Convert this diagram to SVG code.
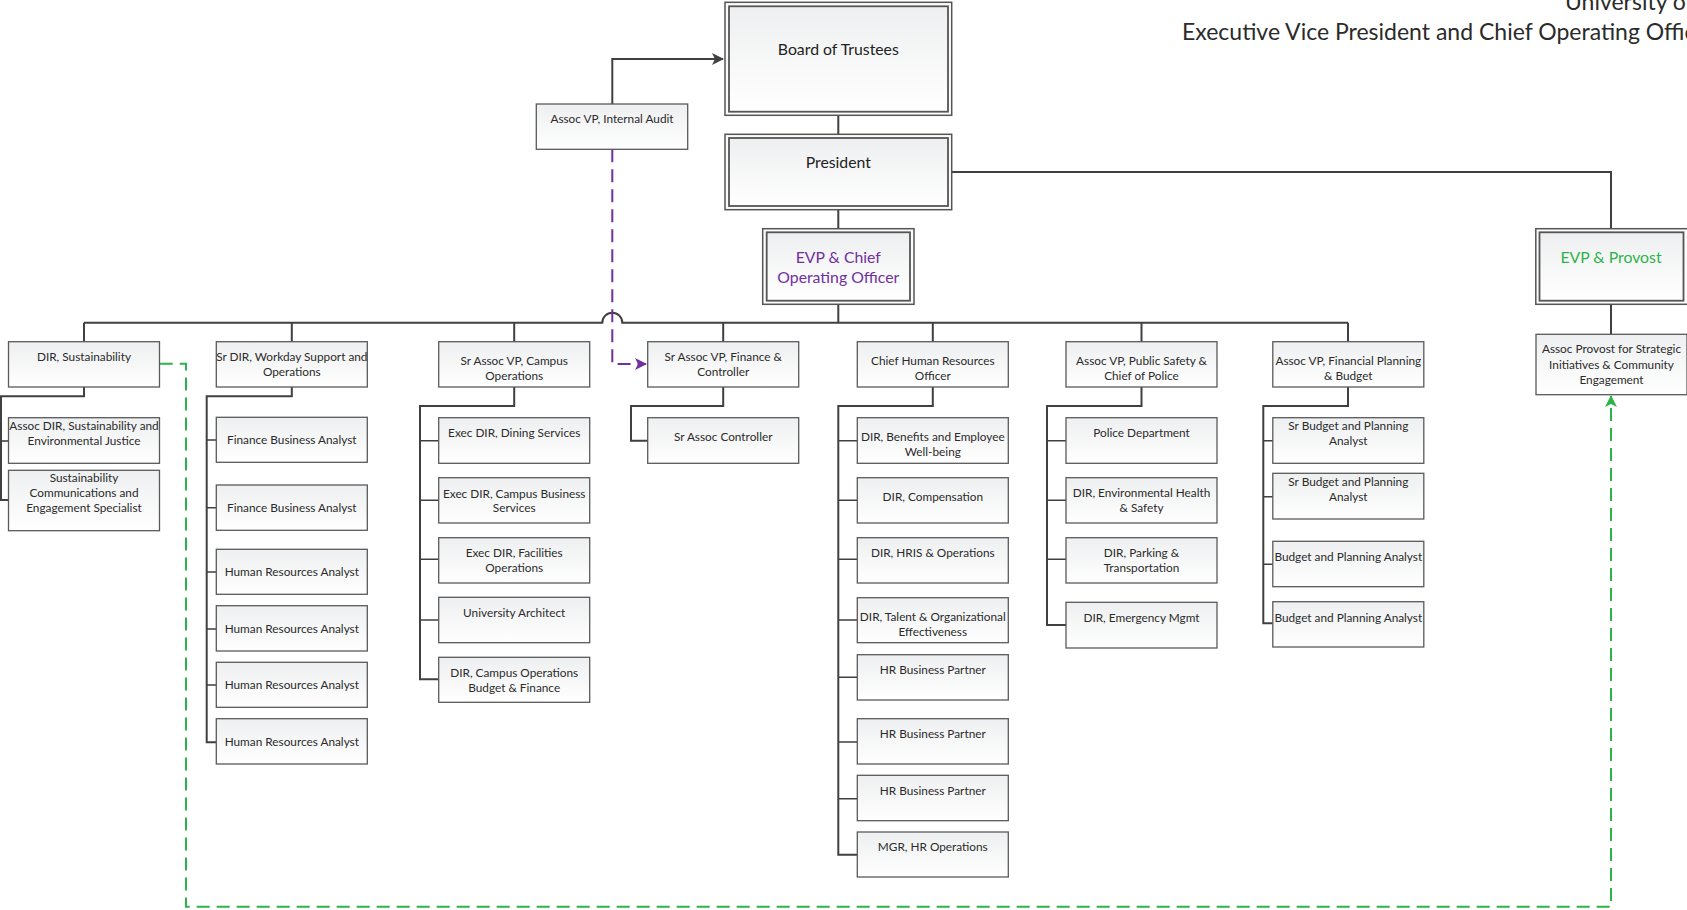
<svg xmlns="http://www.w3.org/2000/svg" width="1687" height="910" viewBox="0 0 1687 910">
<style>
.bx{fill:url(#g);stroke:#5a5a5a;stroke-width:1.3}
.bo{fill:#fbfbfb;stroke:#555;stroke-width:1.5}
.bi{fill:url(#g);stroke:#555;stroke-width:1.8}
.t{font-family:Lato,"Liberation Sans",sans-serif;font-size:11.8px;fill:#2b2b2b;text-anchor:middle}
.tb{font-family:Lato,"Liberation Sans",sans-serif;font-size:15.8px;fill:#222;text-anchor:middle}
.ttl{font-family:Lato,"Liberation Sans",sans-serif;font-size:23px;fill:#2b2b2b}
.c{fill:none;stroke:#404040;stroke-width:2}
.cb{fill:none;stroke:#404040;stroke-width:1.6}
.dp{fill:none;stroke:#7030a0;stroke-width:2;stroke-dasharray:13 7}
.dg{fill:none;stroke:#2db34a;stroke-width:2;stroke-dasharray:13 7}
</style>
<defs>
<linearGradient id="g" x1="0" y1="0" x2="0" y2="1">
<stop offset="0" stop-color="#eeeff0"/><stop offset="1" stop-color="#ffffff"/>
</linearGradient>
<marker id="ak" viewBox="0 0 12 12" refX="11" refY="6" markerWidth="12" markerHeight="12" markerUnits="userSpaceOnUse" orient="auto"><path d="M0,0 L12,6 L0,12 L3,6 Z" fill="#404040"/></marker>
<marker id="ap" viewBox="0 0 12 12" refX="11" refY="6" markerWidth="12" markerHeight="12" markerUnits="userSpaceOnUse" orient="auto"><path d="M0,0 L12,6 L0,12 L3,6 Z" fill="#7030a0"/></marker>
<marker id="ag" viewBox="0 0 12 12" refX="11" refY="6" markerWidth="12" markerHeight="12" markerUnits="userSpaceOnUse" orient="auto"><path d="M0,0 L12,6 L0,12 L3,6 Z" fill="#2db34a"/></marker>
</defs>
<rect width="1687" height="910" fill="#ffffff"/>
<text class="ttl" x="1565" y="10">University of</text>
<text class="ttl" x="1182" y="40">Executive Vice President and Chief Operating Officer</text>

<g id="connectors">
<path class="c" d="M838.3 115.3V134.3M838.3 209.7V228.7M838.3 304.3V322.7"/>
<path class="c" d="M84 322.7H602.3A10 10 0 0 1 622.3 322.7H1348"/>
<path class="c" d="M84 322.7V341.7M291.8 322.7V341.7M514.2 322.7V341.7M723.2 322.7V341.7M932.8 322.7V341.7M1141.5 322.7V341.7M1348 322.7V341.7"/>
<path class="c" d="M951.7 172H1611V228.7M1611 304.3V334.3"/>
<path class="c" d="M612.3 104V59H723" marker-end="url(#ak)"/>
<path class="c" d="M84 387V396.3H1V500H8.5"/><path class="cb" d="M1 441H8.5"/>
<path class="c" d="M291.8 387V396.3H206.7V742.3H216.3"/><path class="cb" d="M206.7 440H216.3M206.7 507.7H216.3M206.7 572H216.3M206.7 629H216.3M206.7 685H216.3"/>
<path class="c" d="M514.2 387V406H420V679.3H438.7"/><path class="cb" d="M420 440.7H438.7M420 500.3H438.7M420 559.3H438.7M420 620H438.7"/>
<path class="c" d="M723.2 387V406H631V440.7H647.7"/>
<path class="c" d="M932.8 387V406H838.3V854.7H857.3"/><path class="cb" d="M838.3 440.7H857.3M838.3 500.3H857.3M838.3 559.3H857.3M838.3 620H857.3M838.3 677.3H857.3M838.3 742H857.3M838.3 798.7H857.3"/>
<path class="c" d="M1141.5 387V406H1047V625H1066"/><path class="cb" d="M1047 440.7H1066M1047 500.3H1066M1047 559.3H1066"/>
<path class="c" d="M1348 387V406H1263.3V623.3H1272.8"/><path class="cb" d="M1263.3 440.7H1272.8M1263.3 496.7H1272.8M1263.3 564.3H1272.8"/>
<path class="dp" d="M612.3 149.3V364H646" marker-end="url(#ap)"/>
<path class="dg" d="M159.7 363.7H186V906.7H1611V396" marker-end="url(#ag)"/>
</g>

<g id="board"><rect class="bo" x="725" y="2.3" width="226.7" height="113"/><rect class="bi" x="729" y="6.3" width="219" height="105.4"/><text class="tb" x="838.3" y="54.6">Board of Trustees</text></g>
<g id="president"><rect class="bo" x="725" y="134.3" width="226.7" height="75.4"/><rect class="bi" x="729" y="138" width="219" height="68"/><text class="tb" x="838.3" y="167.6">President</text></g>
<g id="evp-coo"><rect class="bo" x="762.7" y="228.7" width="151.3" height="75.6"/><rect class="bi" x="766.7" y="232.3" width="143.3" height="68.4"/><text class="tb" x="838.3" y="263.3" style="fill:#7030a0">EVP &amp; Chief</text><text class="tb" x="838.3" y="283.3" style="fill:#7030a0">Operating Officer</text></g>
<g id="evp-provost"><rect class="bo" x="1535.8" y="228.7" width="152" height="75.6"/><rect class="bi" x="1539.5" y="232.3" width="144" height="68.4"/><text class="tb" x="1611" y="263.3" style="fill:#2db34a">EVP &amp; Provost</text></g>
<g id="audit"><rect class="bx" x="536.3" y="104" width="151.4" height="45.3"/><text class="t" x="612" y="123.2">Assoc VP, Internal Audit</text></g>
<g id="assoc-provost"><rect class="bx" x="1536" y="334.3" width="151" height="60.4"/><text class="t" x="1611.5" y="353.2">Assoc Provost for Strategic</text><text class="t" x="1611.5" y="369.2">Initiatives &amp; Community</text><text class="t" x="1611.5" y="384.2">Engagement</text></g>

<g id="dir-sustainability"><rect class="bx" x="8.5" y="341.7" width="151" height="45.3"/><text class="t" x="84" y="361.2">DIR, Sustainability</text></g>
<g id="assoc-dir-sust"><rect class="bx" x="8.5" y="417.7" width="151" height="45.6"/><text class="t" x="84" y="430.2">Assoc DIR, Sustainability and</text><text class="t" x="84" y="445.2">Environmental Justice</text></g>
<g id="sust-comm"><rect class="bx" x="8.5" y="470.3" width="151" height="60.4"/><text class="t" x="84" y="482.2">Sustainability</text><text class="t" x="84" y="497.2">Communications and</text><text class="t" x="84" y="512.2">Engagement Specialist</text></g>

<g id="workday"><rect class="bx" x="216.3" y="341.7" width="151" height="45.3"/><text class="t" x="291.8" y="361.2">Sr DIR, Workday Support and</text><text class="t" x="291.8" y="376.2">Operations</text></g>
<g id="fba1"><rect class="bx" x="216.3" y="417.3" width="151" height="45"/><text class="t" x="291.8" y="444.2">Finance Business Analyst</text></g>
<g id="fba2"><rect class="bx" x="216.3" y="485" width="151" height="45.3"/><text class="t" x="291.8" y="512.2">Finance Business Analyst</text></g>
<g id="hra1"><rect class="bx" x="216.3" y="549.3" width="151" height="45"/><text class="t" x="291.8" y="576.2">Human Resources Analyst</text></g>
<g id="hra2"><rect class="bx" x="216.3" y="605.7" width="151" height="45.3"/><text class="t" x="291.8" y="633.2">Human Resources Analyst</text></g>
<g id="hra3"><rect class="bx" x="216.3" y="662.3" width="151" height="45"/><text class="t" x="291.8" y="689.2">Human Resources Analyst</text></g>
<g id="hra4"><rect class="bx" x="216.3" y="718.7" width="151" height="45.3"/><text class="t" x="291.8" y="746.2">Human Resources Analyst</text></g>

<g id="campus-ops"><rect class="bx" x="438.7" y="341.7" width="151" height="45.3"/><text class="t" x="514.2" y="365.2">Sr Assoc VP, Campus</text><text class="t" x="514.2" y="380.2">Operations</text></g>
<g id="dining"><rect class="bx" x="438.7" y="417.7" width="151" height="45.6"/><text class="t" x="514.2" y="437.2">Exec DIR, Dining Services</text></g>
<g id="cbs"><rect class="bx" x="438.7" y="477.7" width="151" height="45.3"/><text class="t" x="514.2" y="497.5">Exec DIR, Campus Business</text><text class="t" x="514.2" y="512.2">Services</text></g>
<g id="facilities"><rect class="bx" x="438.7" y="537.7" width="151" height="45.3"/><text class="t" x="514.2" y="557.2">Exec DIR, Facilities</text><text class="t" x="514.2" y="572.2">Operations</text></g>
<g id="architect"><rect class="bx" x="438.7" y="597.3" width="151" height="45.4"/><text class="t" x="514.2" y="617.2">University Architect</text></g>
<g id="cobf"><rect class="bx" x="438.7" y="657.3" width="151" height="45"/><text class="t" x="514.2" y="677.2">DIR, Campus Operations</text><text class="t" x="514.2" y="692.2">Budget &amp; Finance</text></g>

<g id="finance"><rect class="bx" x="647.7" y="341.7" width="151" height="45.3"/><text class="t" x="723.2" y="361.2">Sr Assoc VP, Finance &amp;</text><text class="t" x="723.2" y="376.2">Controller</text></g>
<g id="controller"><rect class="bx" x="647.7" y="417.7" width="151" height="45.6"/><text class="t" x="723.2" y="441.2">Sr Assoc Controller</text></g>

<g id="chro"><rect class="bx" x="857.3" y="341.7" width="151" height="45.3"/><text class="t" x="932.8" y="365.2">Chief Human Resources</text><text class="t" x="932.8" y="380.2">Officer</text></g>
<g id="benefits"><rect class="bx" x="857.3" y="417.7" width="151" height="45.6"/><text class="t" x="932.8" y="441.2">DIR, Benefits and Employee</text><text class="t" x="932.8" y="456.2">Well-being</text></g>
<g id="compensation"><rect class="bx" x="857.3" y="477.7" width="151" height="45.3"/><text class="t" x="932.8" y="501.2">DIR, Compensation</text></g>
<g id="hris"><rect class="bx" x="857.3" y="537.7" width="151" height="45.3"/><text class="t" x="932.8" y="557.2">DIR, HRIS &amp; Operations</text></g>
<g id="talent"><rect class="bx" x="857.3" y="597.7" width="151" height="45"/><text class="t" x="932.8" y="620.7">DIR, Talent &amp; Organizational</text><text class="t" x="932.8" y="636.2">Effectiveness</text></g>
<g id="hrbp1"><rect class="bx" x="857.3" y="654.7" width="151" height="45.3"/><text class="t" x="932.8" y="674.2">HR Business Partner</text></g>
<g id="hrbp2"><rect class="bx" x="857.3" y="718.7" width="151" height="45.3"/><text class="t" x="932.8" y="738.2">HR Business Partner</text></g>
<g id="hrbp3"><rect class="bx" x="857.3" y="775.3" width="151" height="45.4"/><text class="t" x="932.8" y="795.2">HR Business Partner</text></g>
<g id="hrops"><rect class="bx" x="857.3" y="832" width="151" height="45"/><text class="t" x="932.8" y="851.2">MGR, HR Operations</text></g>

<g id="public-safety"><rect class="bx" x="1066" y="341.7" width="151" height="45.3"/><text class="t" x="1141.5" y="365.2">Assoc VP, Public Safety &amp;</text><text class="t" x="1141.5" y="380.2">Chief of Police</text></g>
<g id="police"><rect class="bx" x="1066" y="417.7" width="151" height="45.6"/><text class="t" x="1141.5" y="437.2">Police Department</text></g>
<g id="ehs"><rect class="bx" x="1066" y="477.7" width="151" height="45.3"/><text class="t" x="1141.5" y="497.2">DIR, Environmental Health</text><text class="t" x="1141.5" y="512.2">&amp; Safety</text></g>
<g id="parking"><rect class="bx" x="1066" y="537.7" width="151" height="45.3"/><text class="t" x="1141.5" y="557.2">DIR, Parking &amp;</text><text class="t" x="1141.5" y="572.2">Transportation</text></g>
<g id="emergency"><rect class="bx" x="1066" y="602.3" width="151" height="45.7"/><text class="t" x="1141.5" y="622.2">DIR, Emergency Mgmt</text></g>

<g id="fin-planning"><rect class="bx" x="1272.8" y="341.7" width="151" height="45.3"/><text class="t" x="1348.3" y="365.2">Assoc VP, Financial Planning</text><text class="t" x="1348.3" y="380.2">&amp; Budget</text></g>
<g id="sbpa1"><rect class="bx" x="1272.8" y="417.7" width="151" height="45.6"/><text class="t" x="1348.3" y="430.2">Sr Budget and Planning</text><text class="t" x="1348.3" y="445.2">Analyst</text></g>
<g id="sbpa2"><rect class="bx" x="1272.8" y="473.3" width="151" height="45.7"/><text class="t" x="1348.3" y="485.5">Sr Budget and Planning</text><text class="t" x="1348.3" y="501.2">Analyst</text></g>
<g id="bpa1"><rect class="bx" x="1272.8" y="541.3" width="151" height="45.4"/><text class="t" x="1348.3" y="561.2">Budget and Planning Analyst</text></g>
<g id="bpa2"><rect class="bx" x="1272.8" y="601.7" width="151" height="45.3"/><text class="t" x="1348.3" y="621.5">Budget and Planning Analyst</text></g>
</svg>
